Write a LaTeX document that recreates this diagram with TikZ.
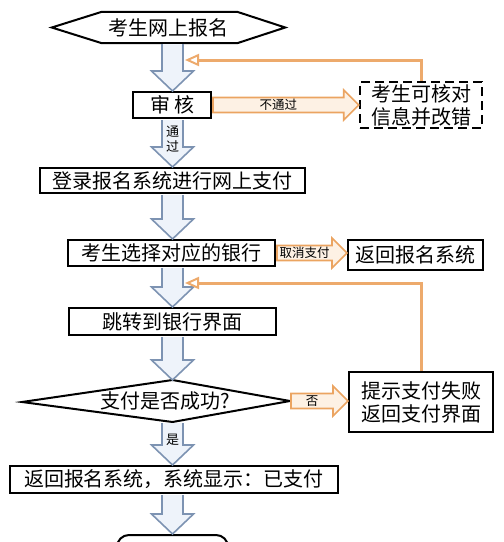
\documentclass[tikz,border=0pt]{standalone}
\usepackage{fontspec}
\newfontfamily\cjk{Noto Sans CJK SC}
\usetikzlibrary{calc,arrows.meta}
\definecolor{bluebd}{HTML}{7D93B2}
\definecolor{bluefl}{HTML}{EEF3FA}
\definecolor{orbd}{HTML}{EBA461}
\definecolor{orfl}{HTML}{FDF1E4}
\definecolor{orline}{HTML}{EDAA6C}
\newcommand\harrow[2]{%
  \fill[bluefl] let \p1=(#1 -| axis), \p2=(#2 -| axis) in
    (\x1-10.5pt,\y1-1pt) -- (\x1-10.5pt,\y2+20pt) -- (\x1-21pt,\y2+20pt) -- (\x2,\y2)
    -- (\x1+21pt,\y2+20pt) -- (\x1+10.5pt,\y2+20pt) -- (\x1+10.5pt,\y1-1pt) -- cycle;
  \draw[bluearrow] let \p1=(#1 -| axis), \p2=(#2 -| axis) in
    (\x1-10.5pt,\y1-1pt) -- (\x1-10.5pt,\y2+20pt) -- (\x1-21pt,\y2+20pt) -- (\x2,\y2)
    -- (\x1+21pt,\y2+20pt) -- (\x1+10.5pt,\y2+20pt) -- (\x1+10.5pt,\y1-1pt);}
\newcommand\oarrow[3]{%
  \draw[orangearrow] let \p1=(#1), \p2=(#2) in
    (\x1+1pt,\y1+7.5pt) -- (\x2-15pt,\y1+7.5pt) -- (\x2-15pt,\y1+15pt) -- (\x2,\y1)
    -- (\x2-15pt,\y1-15pt) -- (\x2-15pt,\y1-7.5pt) -- (\x1+1pt,\y1-7.5pt) -- cycle
    node[smalllabel] at ({(\x1+\x2)/2-7pt},\y1) {#3};}
\begin{document}
\begin{tikzpicture}[x=1pt,y=-1pt,
  box/.style={draw=black, line width=2pt, fill=white, inner sep=0pt, align=center,
    font=\cjk\fontsize{20}{23}\selectfont},
  dashbox/.style={box, dash pattern=on 9pt off 5pt, line width=2.5pt},
  bluearrow/.style={draw=bluebd, line width=1.6pt, line join=miter},
  orangearrow/.style={draw=orbd, fill=orfl, line width=1.6pt, line join=miter},
  smalllabel/.style={font=\cjk\fontsize{12.5}{14}\selectfont, inner sep=0pt},
  fbline/.style={draw=orline, line width=3pt,
    -{Triangle[open, length=14pt, width=12pt, line width=2pt]}}]
\useasboundingbox (0,0) rectangle (504,542);
\clip (0,0) rectangle (504,542);
\coordinate (axis) at (172.5,0);

% start hexagon
\node[inner sep=0pt, minimum width=233pt, minimum height=31pt,
  font=\cjk\fontsize{20}{23}\selectfont] (start) at (168.5,27.5) {考生网上报名};
\draw[line width=2pt, line join=miter] (start.west) -- ([xshift=50pt]start.north west)
  -- ([xshift=-48pt]start.north east) -- (start.east) -- ([xshift=-48pt]start.south east)
  -- ([xshift=50pt]start.south west) -- cycle;

% boxes
\node[box, minimum width=78pt, minimum height=26pt] (shenhe) at (172,105) {审\hspace{4pt}核};
\node[dashbox, minimum width=122pt, minimum height=46pt] (dash) at (421,105) {考生可核对\\信息并改错};
\node[box, minimum width=265pt, minimum height=25pt] (denglu) at (172.5,180.5) {登录报名系统进行网上支付};
\node[box, minimum width=207pt, minimum height=26pt] (yinhang) at (171.5,253) {考生选择对应的银行};
\node[box, minimum width=135pt, minimum height=30pt] (fanhui1) at (415.5,255) {返回报名系统};
\node[box, minimum width=207pt, minimum height=27pt] (tiaozhuan) at (172.5,321.5) {跳转到银行界面};
\node[box, minimum width=144pt, minimum height=60pt] (tishi) at (421,402) {提示支付失败\\返回支付界面};
\node[box, minimum width=328pt, minimum height=27pt] (fanhui2) at (174,479.5) {返回报名系统，系统显示：已支付};
\node[box, rounded corners=12pt, minimum width=111pt, minimum height=34pt] (wancheng) at (172.5,552) {完成报名};

% decision diamond
\coordinate (dleft) at (22,402);
\coordinate (dtop) at (172.5,380);
\coordinate (dright) at (290,401);
\coordinate (dbot) at (172.5,422);
\draw[line width=2pt, fill=white, line join=miter] (dleft) -- (dtop) -- (dright) -- (dbot) -- cycle;
\node[inner sep=0pt, font=\cjk\fontsize{20}{23}\selectfont] (dia) at (165,401) {支付是否成功?};

% blue hollow arrows
\harrow{start.south}{shenhe.north}
\harrow{shenhe.south}{denglu.north}
\harrow{denglu.south}{yinhang.north}
\harrow{yinhang.south}{tiaozhuan.north}
\harrow{tiaozhuan.south}{dtop}
\harrow{dbot}{fanhui2.north}
\harrow{fanhui2.south}{wancheng.north}
\node[smalllabel, align=center, font=\cjk\fontsize{13}{15}\selectfont] (lbtg) at (172.5,139) {通\\过};
\node[smalllabel, font=\cjk\fontsize{13}{15}\selectfont] (lbshi) at (172.5,440) {是};

% orange hollow arrows
\oarrow{shenhe.east}{dash.west |- shenhe.east}{不通过}
\oarrow{yinhang.east}{fanhui1.west |- yinhang.east}{取消支付}
\oarrow{dright}{tishi.west |- dright}{否}

% feedback lines
\coordinate (fb1) at (185,60);
\coordinate (fb2) at (185,283);
\draw[fbline] (dash.north) |- (fb1);
\draw[fbline] (tishi.north) |- (fb2);
\end{tikzpicture}
\end{document}
